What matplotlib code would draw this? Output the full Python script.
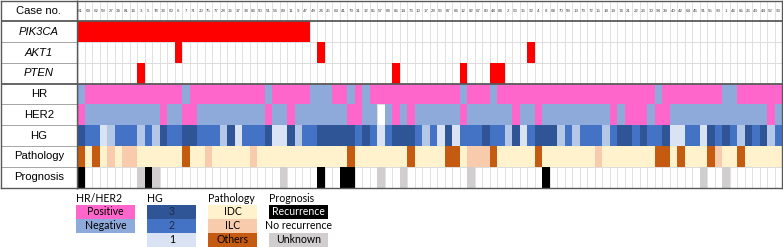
import numpy as np
import matplotlib
matplotlib.use("Agg")
import matplotlib.pyplot as plt
from matplotlib.colors import ListedColormap
from matplotlib.patches import Rectangle


def seq(s):
    # strings are written in blocks of ten columns
    return list(s.replace(" ", ""))


case_no = [61, 69, 62, 59, 27, 34, 81, 16, 3, 5, 78, 33, 60, 6, 7, 71,
           20, 75, 77, 28, 36, 37, 38, 83, 50, 51, 54, 89, 11, 9, 47,
           49, 24, 25, 63, 41, 79, 31, 32, 85, 57, 88, 86, 14, 76, 10, 17,
           29, 56, 87, 66, 12, 82, 67, 80, 48, 84, 2, 53, 35, 92, 4, 8,
           68, 70, 58, 13, 73, 72, 15, 18, 19, 74, 21, 22, 23, 30, 94,
           39, 40, 42, 64, 45, 91, 55, 90, 1, 46, 65, 26, 43, 44, 52, 93]

# M = mutated, . = wild type
pik3ca = seq("MMMMMMMMMM MMMMMMMMMM MMMMMMMMMM M......... .......... "
             ".......... .......... .......... .......... ....")
akt1 = seq(".......... ...M...... .......... ..M....... .......... "
           ".......... M......... .......... .......... ....")
pten = seq("........M. .......... .......... .......... ..M....... "
           ".M...MM... .......... .......... .......... ....")
# P = positive, N = negative, - = not available
hr = seq("NPPPPPPPPP PPPPNPPPPP PPPPPNPPPP PNNNPPNPNP PPPPPPPPPP "
         "PNPPPNPPPP PPPPPPPPPP PPPPPPPNPP PPPPPPNNPP PPPP")
her2 = seq("PNNNNNNNNN NPNNPPNNNN NNNNNPNNPN NNNNNNPPNN -NPNPNNNNN "
           "NPNNNNNNPN NPNNNNNNNN NPNPPPNPPN NNNNNNNNNN NNPN")
# histological grade, u = lighter shade not in the legend
hg = seq("3221u222u2 u32233222u 312223113u 2233333232 123332u213 "
         "1222322u31 2333u2u222 u233232231 12213232u3 23u2")
# I = IDC, L = ILC, O = others
pathology = seq("OIOILILLII IIIIOIILII IIILIIIIII IIIIIIOIII IIIIOIIIIO "
                "OILLLOIIII IOIIIIIIIL IIIIIIIOOI OIIIOLIIOI IIII")
# R = recurrence, N = no recurrence, U = unknown
prognosis = seq("RNNNNNNNUR UNNNNNNNNN NNNNNNNUNN NNRNNRRNNN UNNUNNNNNN "
                "NNUNNNNNNN NNRNNNNNNN NNNNNNNNNN NNNUNNUNNN NNNN")

row_names = ["Case no.", "PIK3CA", "AKT1", "PTEN", "HR", "HER2", "HG",
             "Pathology", "Prognosis"]
italic_rows = ["PIK3CA", "AKT1", "PTEN"]

mut_col = {"M": "#ff0000"}
rec_col = {"P": "#ff66cc", "N": "#8eaadb"}
hg_col = {"3": "#2f5597", "2": "#4472c4", "1": "#dae3f3", "u": "#b4c7e7"}
path_col = {"I": "#fff2cc", "L": "#f8cbad", "O": "#c55a11"}
prog_col = {"R": "#000000", "U": "#d0cece"}

rows = [(pik3ca, mut_col), (akt1, mut_col), (pten, mut_col), (hr, rec_col),
        (her2, rec_col), (hg, hg_col), (pathology, path_col),
        (prognosis, prog_col)]

n_cols = len(case_no)
palette = []
Z = np.full((len(row_names), n_cols), -1)
for r, (vals, cmap_) in enumerate(rows, start=1):
    for j, v in enumerate(vals):
        c = cmap_.get(v)
        if c is None:
            continue
        if c not in palette:
            palette.append(c)
        Z[r, j] = palette.index(c)
Zm = np.ma.masked_less(Z, 0)

W, H = 783, 247
fig = plt.figure(figsize=(W / 100, H / 100), dpi=100)
plt.rcParams["font.family"] = ["Liberation Sans", "DejaVu Sans"]

top = 1 - 0.6 / H
bot = (H - 187.5) / H
ax = fig.add_axes([77 / W, bot, 705 / W, top - bot])
axl = fig.add_axes([0.6 / W, bot, 76.4 / W, top - bot])

grid = "#dcdcdc"
dark = "#595959"
for j in range(1, n_cols):
    ax.axvline(j, color=grid, lw=0.6, zorder=0)
for r in [2, 3, 5, 6, 7, 8]:
    ax.axhline(r, color=grid, lw=0.7, zorder=0)

xs = np.arange(n_cols + 1)
ys = np.arange(len(row_names) + 1)
ax.pcolormesh(xs, ys, Zm, cmap=ListedColormap(palette), vmin=-0.5,
              vmax=len(palette) - 0.5, edgecolors="none", antialiased=False,
              zorder=1)
for r in [1, 4]:
    ax.axhline(r, color=dark, lw=1.3, zorder=3)

for j, c in enumerate(case_no):
    ax.text(j + 0.5, 0.5, str(c), ha="center", va="center", fontsize=3.2,
            color="#404040")

ax.set_xlim(0, n_cols)
ax.set_ylim(len(row_names), 0)
ax.set_xticks([])
ax.set_yticks([])
for s in ax.spines.values():
    s.set_color(dark)
    s.set_linewidth(1.0)
    s.set_zorder(4)

# row labels
for r in range(1, len(row_names)):
    axl.axhline(r, color=dark if r in (1, 4) else "#a6a6a6",
                lw=1.3 if r in (1, 4) else 0.7)
for r, name in enumerate(row_names):
    axl.text(0.5, r + 0.5, name, ha="center", va="center", fontsize=8.1,
             style="italic" if name in italic_rows else "normal")
axl.set_xlim(0, 1)
axl.set_ylim(len(row_names), 0)
axl.set_xticks([])
axl.set_yticks([])
for s in axl.spines.values():
    s.set_color(dark)
    s.set_linewidth(1.0)

# legend
leg_titles = ["HR/HER2", "HG", "Pathology", "Prognosis"]
leg_items = [
    [("Positive", rec_col["P"], "black"), ("Negative", rec_col["N"], "black")],
    [("3", hg_col["3"], "#1f2a44"), ("2", hg_col["2"], "#1f2a44"),
     ("1", hg_col["1"], "black")],
    [("IDC", path_col["I"], "black"), ("ILC", path_col["L"], "black"),
     ("Others", path_col["O"], "black")],
    [("Recurrence", prog_col["R"], "white"), ("No recurrence", "white", "black"),
     ("Unknown", prog_col["U"], "black")],
]
leg_x = [76, 147.3, 208.3, 269.3]
leg_w = [59, 49, 49, 59]
axg = fig.add_axes([0, 0, 1, 1], zorder=-1)
axg.set_xlim(0, W)
axg.set_ylim(H, 0)
axg.axis("off")
box_top, box_h = 205, 13.9
for x0, w, title, items in zip(leg_x, leg_w, leg_titles, leg_items):
    axg.text(x0, 198.5, title, ha="left", va="center", fontsize=7.6,
             family="Lato")
    for i, (lab, fc, tc) in enumerate(items):
        y0 = box_top + i * box_h
        axg.add_patch(Rectangle((x0, y0), w, box_h, facecolor=fc,
                                edgecolor="none"))
        axg.text(x0 + w / 2, y0 + box_h / 2, lab, ha="center", va="center",
                 fontsize=7.6, color=tc, family="Lato")

fig.savefig("out.png", dpi=100)
